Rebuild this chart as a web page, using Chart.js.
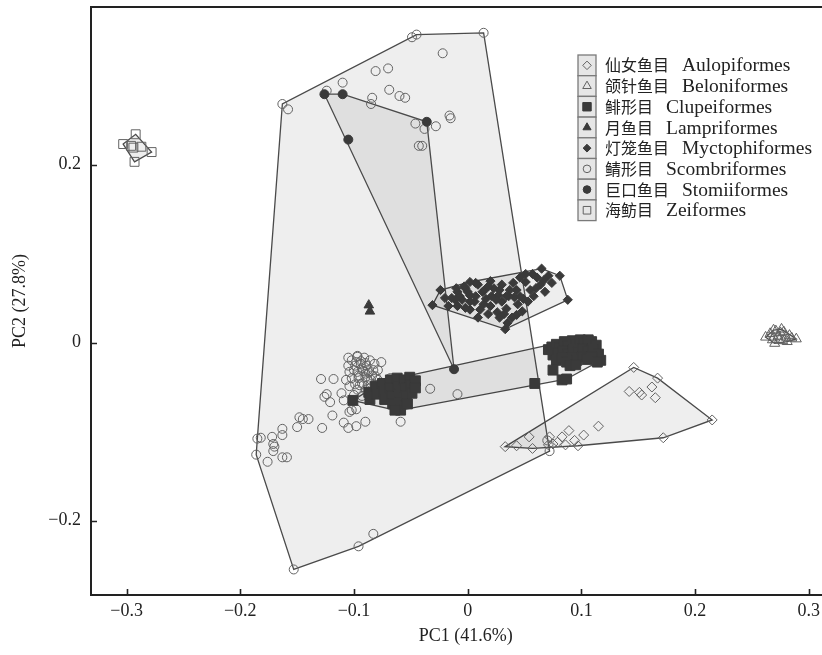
<!DOCTYPE html>
<html>
<head>
<meta charset="utf-8">
<script src="https://cdn.jsdelivr.net/npm/chart.js@4.4.1/dist/chart.umd.min.js"></script>
<style>
  html, body { margin: 0; padding: 0; background: #fff; }
</style>
</head>
<body>
<canvas id="pca" width="822" height="655"></canvas>
<script>
// ── data (PC1, PC2) ───────────────────────────────────────────────────────
const AULOPIFORMES = [
  [0.146,-0.028],[0.167,-0.040],[0.162,-0.050],[0.165,-0.062],[0.142,-0.055],[0.153,-0.059],
  [0.151,-0.056],[0.215,-0.087],[0.172,-0.107],[0.115,-0.094],[0.102,-0.104],[0.089,-0.099],
  [0.083,-0.106],[0.094,-0.110],[0.097,-0.116],[0.086,-0.115],[0.079,-0.112],[0.072,-0.106],
  [0.054,-0.106],[0.043,-0.116],[0.033,-0.117],[0.057,-0.119],[0.071,-0.115],[0.075,-0.114]
];
const BELONIFORMES = [
  [0.262,0.006],[0.266,0.010],[0.269,0.014],[0.271,0.013],[0.273,0.007],[0.276,0.015],
  [0.278,0.012],[0.280,0.006],[0.274,0.003],[0.268,0.003],[0.283,0.008],[0.285,0.005],
  [0.289,0.004],[0.277,0.002],[0.270,-0.001],[0.281,0.001],[0.275,0.011],[0.269,0.006]
];
const CLUPEIFORMES = [
  [-0.101,-0.065],[-0.087,-0.056],[-0.086,-0.064],[-0.081,-0.049],[-0.080,-0.058],[-0.075,-0.046],
  [-0.074,-0.055],[-0.073,-0.064],[-0.068,-0.042],[-0.068,-0.051],[-0.067,-0.060],[-0.066,-0.069],
  [-0.062,-0.040],[-0.061,-0.049],[-0.060,-0.058],[-0.060,-0.067],[-0.059,-0.076],[-0.056,-0.042],
  [-0.055,-0.051],[-0.054,-0.060],[-0.053,-0.069],[-0.051,-0.039],[-0.050,-0.048],[-0.049,-0.057],
  [-0.046,-0.043],[-0.046,-0.051],[-0.064,-0.076],
  [0.071,-0.008],[0.074,-0.005],[0.078,-0.002],[0.081,-0.006],[0.085,0.001],[0.088,-0.004],
  [0.092,0.002],[0.095,-0.002],[0.099,0.003],[0.102,-0.001],[0.106,0.003],[0.109,0.001],
  [0.113,-0.003],[0.075,-0.014],[0.079,-0.012],[0.084,-0.010],[0.088,-0.013],[0.093,-0.008],
  [0.097,-0.011],[0.101,-0.007],[0.106,-0.010],[0.110,-0.008],[0.115,-0.013],[0.117,-0.020],
  [0.078,-0.020],[0.083,-0.017],[0.087,-0.022],[0.092,-0.017],[0.096,-0.020],[0.101,-0.016],
  [0.105,-0.019],[0.109,-0.016],[0.114,-0.022],[0.090,-0.026],[0.095,-0.025],[0.075,-0.031],
  [0.059,-0.046],[0.083,-0.042],[0.087,-0.041]
];
const LAMPRIFORMES = [[-0.087,0.042],[-0.086,0.035]];
const MYCTOPHIFORMES = [
  [-0.031,0.042],[-0.024,0.059],[0.065,0.083],[0.081,0.075],[0.088,0.048],[0.033,0.015],
  [0.035,0.022],[-0.014,0.050],[-0.009,0.057],[-0.005,0.048],[-0.002,0.061],[0.002,0.053],
  [0.006,0.046],[0.009,0.065],[0.013,0.057],[0.016,0.049],[0.020,0.041],[0.023,0.061],
  [0.027,0.053],[0.030,0.046],[0.034,0.038],[0.037,0.059],[0.041,0.051],[0.044,0.043],
  [0.048,0.035],[0.051,0.068],[0.055,0.059],[0.058,0.052],[0.046,0.073],[0.051,0.077],
  [0.057,0.077],[0.061,0.073],[0.040,0.067],[0.026,0.034],[0.018,0.032],[0.011,0.037],
  [0.002,0.037],[-0.002,0.039],[-0.009,0.041],[-0.010,0.061],[-0.003,0.063],[0.007,0.067],
  [0.020,0.069],[0.030,0.065],[0.043,0.031],[0.039,0.028],[0.028,0.028],[0.068,0.057],
  [0.074,0.067],[-0.017,0.041],[0.009,0.028],[0.015,0.059],[0.025,0.048],[0.036,0.052],
  [0.049,0.049],[0.002,0.068],[0.064,0.065],
  [-0.007,0.052],[0.000,0.057],[0.007,0.052],[0.014,0.043],[0.021,0.052],[0.028,0.059],
  [0.034,0.052],[0.043,0.059],[0.046,0.052],[0.053,0.046],[0.060,0.061],[0.067,0.070],
  [0.071,0.075],[0.002,0.046],[0.018,0.063],[0.032,0.032],[-0.011,0.048],[-0.020,0.050]
];
const SCOMBRIFORMES = [
  [-0.049,0.343],[-0.045,0.346],[0.014,0.348],[-0.022,0.325],[-0.081,0.305],[-0.070,0.308],
  [-0.069,0.284],[-0.060,0.277],[-0.055,0.275],[-0.084,0.275],[-0.085,0.268],[-0.046,0.246],
  [-0.038,0.240],[-0.028,0.243],[-0.016,0.255],[-0.015,0.252],[-0.043,0.221],[-0.040,0.221],
  [-0.124,0.283],[-0.110,0.292],[-0.163,0.268],[-0.158,0.262],
  [-0.009,-0.058],[0.072,-0.122],[0.070,-0.110],[-0.059,-0.089],[-0.033,-0.052],[-0.097,-0.016],
  [-0.076,-0.022],[-0.129,-0.041],[-0.118,-0.041],[-0.068,-0.040],[-0.124,-0.058],[-0.126,-0.061],
  [-0.121,-0.067],[-0.111,-0.057],[-0.109,-0.065],[-0.102,-0.076],[-0.098,-0.075],[-0.104,-0.078],
  [-0.119,-0.082],[-0.109,-0.090],[-0.105,-0.096],[-0.098,-0.094],[-0.090,-0.089],[-0.128,-0.096],
  [-0.148,-0.084],[-0.145,-0.086],[-0.140,-0.086],[-0.150,-0.095],[-0.163,-0.097],[-0.163,-0.104],
  [-0.172,-0.106],[-0.171,-0.114],[-0.170,-0.117],[-0.171,-0.122],[-0.185,-0.108],[-0.182,-0.107],
  [-0.186,-0.126],[-0.176,-0.134],[-0.163,-0.129],[-0.159,-0.129],[-0.083,-0.215],[-0.096,-0.229],
  [-0.153,-0.255],
  [-0.102,-0.020],[-0.097,-0.015],[-0.091,-0.017],[-0.086,-0.020],[-0.082,-0.024],[-0.105,-0.026],
  [-0.099,-0.026],[-0.094,-0.024],[-0.089,-0.026],[-0.083,-0.031],[-0.104,-0.033],[-0.097,-0.033],
  [-0.092,-0.032],[-0.087,-0.034],[-0.081,-0.038],[-0.102,-0.040],[-0.096,-0.040],[-0.090,-0.039],
  [-0.085,-0.042],[-0.099,-0.047],[-0.093,-0.046],[-0.088,-0.048],[-0.082,-0.049],[-0.097,-0.053],
  [-0.090,-0.053],[-0.107,-0.042],[-0.104,-0.049],[-0.079,-0.031],[-0.094,-0.021],[-0.088,-0.042],
  [-0.100,-0.059],[-0.093,-0.060],[-0.082,-0.056],
  [-0.098,-0.022],[-0.093,-0.029],[-0.088,-0.031],[-0.096,-0.037],[-0.090,-0.035],[-0.084,-0.037],
  [-0.100,-0.031],[-0.095,-0.048],[-0.085,-0.050],[-0.090,-0.023],[-0.105,-0.017],[-0.079,-0.042]
];
const STOMIIFORMES = [[-0.126,0.279],[-0.110,0.279],[-0.105,0.228],[-0.036,0.248],[-0.012,-0.030]];
const ZEIFORMES = [
  [-0.292,0.234],[-0.303,0.223],[-0.278,0.214],[-0.293,0.203],[-0.294,0.219],[-0.296,0.221],[-0.287,0.220]
];

const LABELS_CN = ['仙女鱼目', '颌针鱼目', '鲱形目', '月鱼目', '灯笼鱼目', '鲭形目', '巨口鱼目', '海鲂目'];
const LABELS_EN = ['Aulopiformes', 'Beloniformes', 'Clupeiformes', 'Lampriformes',
                   'Myctophiformes', 'Scombriformes', 'Stomiiformes', 'Zeiformes'];

const X_TICKS = [-0.3, -0.2, -0.1, 0, 0.1, 0.2, 0.3];
const X_TICK_LABELS = ['−0.3', '−0.2', '−0.1', '0', '0.1', '0.2', '0.3'];
const Y_TICKS = [-0.2, 0, 0.2];
const Y_TICK_LABELS = ['−0.2', '0', '0.2'];
const X_TITLE = 'PC1 (41.6%)';
const Y_TITLE = 'PC2 (27.8%)';

// ── styles ────────────────────────────────────────────────────────────────
const OPEN = '#626262', SOLID = '#3a3a3a', INK = '#222';
const HULL_FILL = 'rgba(0,0,0,0.065)', HULL_LINE = '#4a4a4a';
const SERIF = '"Liberation Serif", "DejaVu Serif", serif';

const groups = [
  { data: AULOPIFORMES,   style: 'rectRot',  r: 5,   open: true,  order: 3 },
  { data: BELONIFORMES,   style: 'triangle', r: 5.8, open: true,  order: 3 },
  { data: CLUPEIFORMES,   style: 'rect',     r: 7,   open: false, order: 1 },
  { data: LAMPRIFORMES,   style: 'triangle', r: 5.5, open: false, order: 1 },
  { data: MYCTOPHIFORMES, style: 'rectRot',  r: 4.6, open: false, order: 1 },
  { data: SCOMBRIFORMES,  style: 'circle',   r: 4.5, open: true,  order: 5 },
  { data: STOMIIFORMES,   style: 'circle',   r: 4.5, open: false, order: 0 },
  { data: ZEIFORMES,      style: 'rect',     r: 6.3, open: true,  order: 3 },
];

// ── convex hull (monotone chain) ──────────────────────────────────────────
function convexHull(pts) {
  const p = pts.slice().sort((a, b) => a[0] - b[0] || a[1] - b[1]);
  const cross = (o, a, b) => (a[0] - o[0]) * (b[1] - o[1]) - (a[1] - o[1]) * (b[0] - o[0]);
  const lo = [], up = [];
  for (const q of p) { while (lo.length >= 2 && cross(lo[lo.length - 2], lo[lo.length - 1], q) <= 0) lo.pop(); lo.push(q); }
  for (let i = p.length - 1; i >= 0; i--) { const q = p[i]; while (up.length >= 2 && cross(up[up.length - 2], up[up.length - 1], q) <= 0) up.pop(); up.push(q); }
  lo.pop(); up.pop();
  return lo.concat(up);
}

const hullPlugin = {
  id: 'hulls',
  beforeDatasetsDraw(chart) {
    const { ctx, chartArea: a, scales: { x, y } } = chart;
    ctx.save();
    ctx.beginPath(); ctx.rect(a.left, a.top, a.right - a.left, a.bottom - a.top); ctx.clip();
    chart.data.datasets.forEach(ds => {
      if (ds.data.length < 3) return;
      const h = convexHull(ds.data.map(p => [x.getPixelForValue(p.x), y.getPixelForValue(p.y)]));
      ctx.beginPath();
      h.forEach((p, i) => i ? ctx.lineTo(p[0], p[1]) : ctx.moveTo(p[0], p[1]));
      ctx.closePath();
      ctx.fillStyle = HULL_FILL; ctx.fill();
      ctx.lineWidth = 1.3; ctx.strokeStyle = HULL_LINE; ctx.stroke();
    });
    ctx.restore();
  }
};

// inward ticks, top frame line, x title (sits a little right of centre)
const framePlugin = {
  id: 'frame',
  afterDraw(chart) {
    const { ctx, chartArea: a, scales: { x, y } } = chart;
    ctx.save();
    ctx.strokeStyle = INK; ctx.lineWidth = 1.6;
    ctx.beginPath();
    X_TICKS.forEach(v => { const px = Math.round(x.getPixelForValue(v)) + 0.5; ctx.moveTo(px, a.bottom); ctx.lineTo(px, a.bottom - 6); });
    Y_TICKS.forEach(v => { const py = Math.round(y.getPixelForValue(v)) + 0.5; ctx.moveTo(a.left, py); ctx.lineTo(a.left + 6, py); });
    ctx.stroke();
    ctx.lineWidth = 1.8;
    ctx.beginPath(); ctx.moveTo(a.left, a.top); ctx.lineTo(a.right, a.top); ctx.stroke();
    ctx.fillStyle = INK;
    ctx.font = '18px ' + SERIF;
    ctx.textAlign = 'center'; ctx.textBaseline = 'middle';
    ctx.fillText(X_TITLE, x.getPixelForValue(0) - 2, 636);
    ctx.restore();
  }
};

// boxed legend, top right
const legendPlugin = {
  id: 'boxLegend',
  afterDraw(chart) {
    const ctx = chart.ctx;
    const x0 = 578, w = 18, top = 55, step = 20.7;
    ctx.save();
    groups.forEach((g, i) => {
      const cy = top + step * i + step / 2;
      ctx.fillStyle = '#e6e6e6'; ctx.strokeStyle = '#7a7a7a'; ctx.lineWidth = 1.3;
      ctx.fillRect(x0, cy - step / 2, w, step);
      ctx.strokeRect(x0, cy - step / 2, w, step);
      ctx.fillStyle = g.open ? 'rgba(0,0,0,0)' : SOLID;
      ctx.strokeStyle = g.open ? OPEN : SOLID;
      ctx.lineWidth = 1;
      Chart.helpers.drawPoint(ctx, { pointStyle: g.style, radius: g.r * 0.85, rotation: 0, borderWidth: 1 }, x0 + w / 2, cy);
      ctx.fillStyle = INK;
      ctx.textBaseline = 'middle';
      ctx.font = '16px "Noto Sans CJK SC"';
      ctx.fillText(LABELS_CN[i], 605, cy);
      const cw = ctx.measureText(LABELS_CN[i]).width;
      ctx.font = '19.5px ' + SERIF;
      ctx.fillText(LABELS_EN[i], 605 + cw + 13, cy + 1);
    });
    ctx.restore();
  }
};

// fixed plot box: no automatic label padding
const noPad = s => { s.paddingTop = 0; s.paddingBottom = 0; s.paddingLeft = 0; s.paddingRight = 0; };

new Chart(document.getElementById('pca'), {
  type: 'scatter',
  data: {
    datasets: groups.map((g, i) => ({
      label: LABELS_EN[i],
      data: g.data.map(([x, y]) => ({ x, y })),
      pointStyle: g.style,
      pointRadius: g.r,
      borderWidth: 1,
      borderColor: g.open ? OPEN : SOLID,
      backgroundColor: g.open ? 'rgba(0,0,0,0)' : SOLID,
      order: g.order
    }))
  },
  options: {
    responsive: false, animation: false, events: [],
    layout: { padding: { top: 7, left: 0, right: 0, bottom: 0 }, autoPadding: false },
    plugins: { legend: { display: false }, tooltip: { enabled: false } },
    scales: {
      x: {
        type: 'linear', min: -0.3313, max: 0.3116,
        afterBuildTicks: s => { s.ticks = X_TICKS.map(v => ({ value: v })); },
        afterFit: s => { s.height = 60; noPad(s); },
        grid: { display: false, drawTicks: false },
        border: { display: true, color: INK, width: 2 },
        ticks: { padding: 5, color: INK, font: { family: SERIF, size: 18 }, maxRotation: 0, callback: (v, i) => X_TICK_LABELS[i] },
        title: { display: false }
      },
      y: {
        type: 'linear', min: -0.2837, max: 0.377,
        afterBuildTicks: s => { s.ticks = Y_TICKS.map(v => ({ value: v })); },
        afterFit: s => { s.width = 91; noPad(s); },
        grid: { display: false, drawTicks: false },
        border: { display: true, color: INK, width: 2 },
        ticks: { padding: 10, color: INK, font: { family: SERIF, size: 18 }, callback: (v, i) => Y_TICK_LABELS[i] },
        title: { display: true, text: Y_TITLE, color: INK, font: { family: SERIF, size: 18 }, padding: { top: 9, bottom: 0 } }
      }
    }
  },
  plugins: [hullPlugin, framePlugin, legendPlugin]
});
</script>
</body>
</html>
